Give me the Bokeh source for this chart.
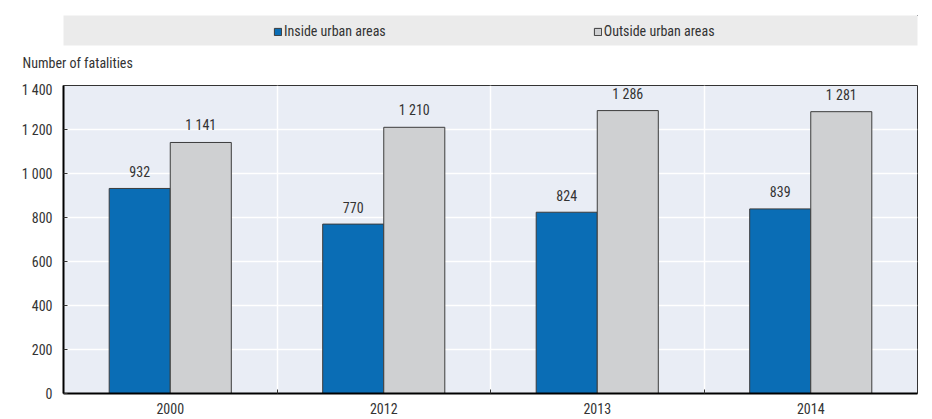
from bokeh.plotting import figure
from bokeh.models import ColumnDataSource, FixedTicker, Legend, LegendItem, Range1d, Title
from bokeh.layouts import column
from bokeh.embed import file_html
from bokeh.resources import INLINE

years = ["2000", "2012", "2013", "2014"]
inside = [932, 770, 824, 839]
outside = [1141, 1210, 1286, 1281]
series_names = ["Inside urban areas", "Outside urban areas"]
y_ticks = [0, 200, 400, 600, 800, 1000, 1200, 1400]
y_tick_labels = ["0", "200", "400", "600", "800", "1 000", "1 200", "1 400"]
y_title = "Number of fatalities"

BLUE = "#0a6db5"
GREY = "#cfd0d2"
EDGE = "#3c3c3c"
FONT = "'Liberation Sans Narrow', 'Arial Narrow', 'Roboto Condensed', sans-serif"
FS = "14px"
TXT = "#333333"

def fmt(v):
    return f"{v:,}".replace(",", " ")

W = 0.286
centers = [i + 0.5 for i in range(len(years))]
src = ColumnDataSource(dict(
    x_in=[c - W / 2 for c in centers],
    x_out=[c + W / 2 for c in centers],
    inside=inside, outside=outside,
    lab_in=[fmt(v) for v in inside],
    lab_out=[fmt(v) for v in outside],
))

p = figure(width=932, height=338, output_backend="svg", toolbar_location=None,
           x_range=Range1d(0, len(years)), y_range=Range1d(0, 1400),
           min_border_left=62, min_border_right=15, min_border_top=4, min_border_bottom=26)
p.background_fill_color = "#e9edf5"
p.border_fill_color = "white"
p.outline_line_color = "#333333"
p.outline_line_width = 1

p.vbar(x="x_in", top="inside", width=W, source=src, fill_color=BLUE, line_color=EDGE, line_width=1)
p.vbar(x="x_out", top="outside", width=W, source=src, fill_color=GREY, line_color=EDGE, line_width=1)

p.text(x="x_in", y="inside", text="lab_in", source=src, text_align="center",
       text_baseline="alphabetic", y_offset=-17, text_font_size=FS, text_color=TXT,
       text_font={"value": FONT})
p.text(x="x_out", y="outside", text="lab_out", source=src, text_align="center",
       text_baseline="alphabetic", y_offset=-17, text_font_size=FS, text_color=TXT,
       text_font={"value": FONT})

# axes
p.xaxis.ticker = FixedTicker(ticks=centers, minor_ticks=list(range(1, len(years))))
p.xaxis.major_label_overrides = {c: y for c, y in zip(centers, years)}
p.xaxis.major_tick_line_color = None
p.xaxis.minor_tick_in = 4
p.xaxis.minor_tick_out = 0
p.xaxis.minor_tick_line_color = "#333333"
p.xaxis.axis_line_width = 2
p.xaxis.axis_line_color = "black"
p.xaxis.major_label_standoff = 3

p.yaxis.ticker = FixedTicker(ticks=y_ticks)
p.yaxis.major_label_overrides = {t: l for t, l in zip(y_ticks, y_tick_labels)}
p.yaxis.major_tick_in = 4
p.yaxis.major_tick_out = 0
p.yaxis.minor_tick_line_color = None
p.yaxis.axis_line_width = 2
p.yaxis.axis_line_color = "black"
p.yaxis.major_tick_line_color = "#333333"
p.yaxis.major_label_standoff = 11

for ax in (p.xaxis[0], p.yaxis[0]):
    ax.major_label_text_font = FONT
    ax.major_label_text_font_size = FS
    ax.major_label_text_color = TXT

p.xgrid.ticker = FixedTicker(ticks=list(range(1, len(years))))
p.xgrid.grid_line_color = "white"
p.xgrid.grid_line_width = 1.5
p.ygrid.ticker = FixedTicker(ticks=y_ticks)
p.ygrid.grid_line_color = "white"
p.ygrid.grid_line_width = 1.5

# legend strip (with the y-axis caption below it)
lg = figure(width=932, height=81, output_backend="svg", toolbar_location=None,
            x_range=Range1d(0, 1), y_range=Range1d(0, 1),
            min_border_left=63, min_border_right=15, min_border_top=15, min_border_bottom=0)
lg.axis.visible = False
lg.grid.visible = False
lg.outline_line_color = None
lg.background_fill_color = "#ebebeb"
lg.border_fill_color = "white"
# hidden sample glyphs (outside the visible range) used only as legend keys
r1 = lg.vbar(x=[5], top=[5], bottom=[4], width=0.1, fill_color=BLUE, line_color=EDGE)
r2 = lg.vbar(x=[5], top=[5], bottom=[4], width=0.1, fill_color=GREY, line_color=EDGE)
leg = Legend(items=[LegendItem(label=series_names[0], renderers=[r1]),
                    LegendItem(label=series_names[1], renderers=[r2])],
             orientation="horizontal", location=(210, 6), padding=0, margin=0,
             spacing=207, glyph_width=9, glyph_height=9, label_standoff=2,
             label_height=15, border_line_color=None, background_fill_alpha=0,
             label_text_font=FONT, label_text_font_size=FS, label_text_color=TXT)
lg.add_layout(leg, "center")
lg.add_layout(Title(text=y_title, align="left", offset=-41, standoff=18,
                    vertical_align="top", text_font=FONT, text_font_size=FS,
                    text_font_style="normal", text_color=TXT), "below")

layout = column(lg, p, spacing=0)
open("out.html", "w").write(file_html(layout, INLINE))
